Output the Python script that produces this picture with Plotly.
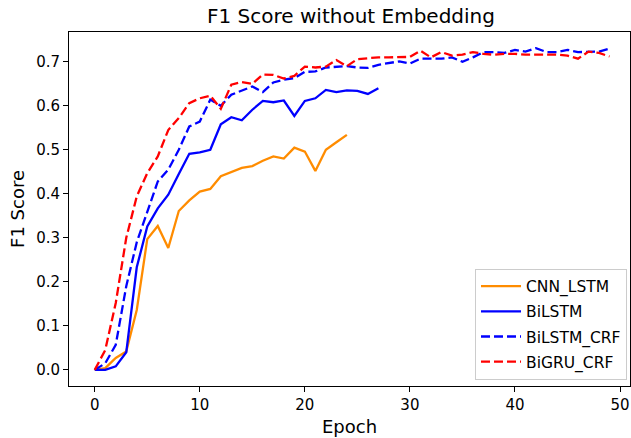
import plotly.graph_objects as go

epochs_cnn = list(range(25))
cnn_lstm = [0.0, 0.004, 0.027, 0.042, 0.136, 0.297, 0.327, 0.277, 0.361, 0.385,
            0.405, 0.411, 0.440, 0.449, 0.459, 0.463, 0.475, 0.485, 0.480, 0.505,
            0.496, 0.452, 0.500, 0.517, 0.534]

epochs_bilstm = list(range(28))
bilstm = [0.0, 0.0, 0.008, 0.040, 0.233, 0.326, 0.367, 0.398, 0.445, 0.491,
          0.494, 0.500, 0.558, 0.574, 0.567, 0.591, 0.611, 0.608, 0.612, 0.577,
          0.611, 0.617, 0.636, 0.631, 0.635, 0.634, 0.627, 0.640]

epochs_50 = list(range(50))
bilstm_crf = [0.0, 0.015, 0.057, 0.19, 0.29, 0.36, 0.428, 0.455, 0.50, 0.553,
              0.564, 0.614, 0.600, 0.625, 0.635, 0.644, 0.631, 0.653, 0.659, 0.663,
              0.677, 0.678, 0.687, 0.689, 0.690, 0.687, 0.686, 0.693, 0.697, 0.701,
              0.696, 0.707, 0.707, 0.707, 0.710, 0.700, 0.710, 0.722, 0.722, 0.720,
              0.727, 0.723, 0.731, 0.722, 0.722, 0.727, 0.722, 0.722, 0.723, 0.730]
bigru_crf = [0.0, 0.045, 0.152, 0.300, 0.394, 0.447, 0.485, 0.545, 0.572, 0.606,
             0.617, 0.623, 0.593, 0.648, 0.654, 0.650, 0.671, 0.670, 0.662, 0.668,
             0.689, 0.687, 0.689, 0.704, 0.690, 0.706, 0.708, 0.710, 0.710, 0.710,
             0.711, 0.725, 0.710, 0.722, 0.714, 0.716, 0.722, 0.718, 0.716, 0.718,
             0.718, 0.716, 0.716, 0.716, 0.716, 0.714, 0.707, 0.723, 0.720, 0.712]

series = [
    ("CNN_LSTM", epochs_cnn, cnn_lstm, "#FF8C00", "solid"),
    ("BiLSTM", epochs_bilstm, bilstm, "#0000FF", "solid"),
    ("BiLSTM_CRF", epochs_50, bilstm_crf, "#0000FF", "9px,4px"),
    ("BiGRU_CRF", epochs_50, bigru_crf, "#FF0000", "9px,4px"),
]

fig = go.Figure()
for name, xs, ys, color, dash in series:
    fig.add_trace(go.Scatter(x=xs, y=ys, mode="lines", name=name, legendgroup=name,
                             line=dict(color=color, width=2.3, dash=dash)))

font = "DejaVu Sans"
fig.update_layout(
    width=631, height=438,
    margin=dict(l=69, r=1, t=32, b=52),
    paper_bgcolor="white", plot_bgcolor="white",
    font=dict(family=font, size=15, color="black"),
    title=dict(text="F1 Score without Embedding", x=(69 + 633) / 2 / 631, xanchor="center",
               y=1 - 16 / 438, yanchor="middle", font=dict(size=20, color="black"),
               automargin=False),
    showlegend=True,
    legend=dict(x=(627 - 69) / 561, xanchor="right", y=0.018, yanchor="bottom",
                bgcolor="rgba(255,255,255,0.8)", bordercolor="#cccccc", borderwidth=1,
                font=dict(size=15.5), tracegroupgap=2, itemwidth=40),
)
fig.update_xaxes(range=[-2.45, 50.95], tickvals=[0, 10, 20, 30, 40, 50],
                 showline=True, linecolor="black", linewidth=1, mirror=True, automargin=False,
                 ticks="outside", ticklen=5, tickcolor="black", showgrid=False, zeroline=False,
                 title=dict(text="Epoch", standoff=7))
fig.update_yaxes(range=[-0.0366, 0.7676], tickvals=[0, 0.1, 0.2, 0.3, 0.4, 0.5, 0.6, 0.7],
                 tickformat=".1f", automargin=False,
                 showline=True, linecolor="black", linewidth=1, mirror=True,
                 ticks="outside", ticklen=5, tickcolor="black", showgrid=False, zeroline=False,
                 title=dict(text="F1 Score", standoff=6))

fig.write_html("out.html", config={"displayModeBar": False},
               post_script="document.body.style.margin='0';")
